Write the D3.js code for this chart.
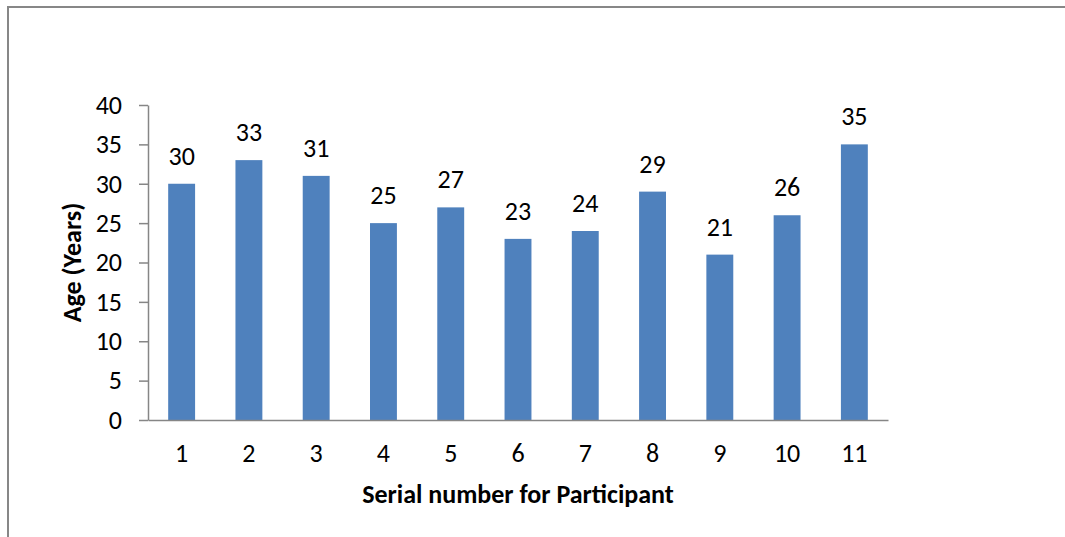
<!DOCTYPE html>
<html>
<head>
<meta charset="utf-8">
<script src="https://cdn.jsdelivr.net/npm/d3@7"></script>
<style>
  html, body { margin: 0; padding: 0; background: #fff; }
  svg { display: block; }
  text { font-family: Carlito, Calibri, "Open Sans", "Liberation Sans", sans-serif; fill: #000; }
</style>
</head>
<body>
<svg id="chart" width="1065" height="537"></svg>
<script>
// Participant serial numbers and their ages
const participants = ["1", "2", "3", "4", "5", "6", "7", "8", "9", "10", "11"];
const ages = [30, 33, 31, 25, 27, 23, 24, 29, 21, 26, 35];
const yTicks = [0, 5, 10, 15, 20, 25, 30, 35, 40];

const svg = d3.select("#chart");

// Outer chart frame (top and left edges)
svg.append("path")
  .attr("d", "M8,537 L8,7 L1065,7")
  .attr("fill", "none")
  .attr("stroke", "#878787")
  .attr("stroke-width", 2);

const plot = { left: 148, right: 888, top: 105, bottom: 420 };

const x = d3.scaleBand()
  .domain(participants)
  .range([plot.left, plot.right])
  .paddingInner(0.6)
  .paddingOuter(0.3);

const y = d3.scaleLinear()
  .domain([0, 40])
  .range([plot.bottom, plot.top]);

// Bars
svg.append("g").selectAll("rect")
  .data(ages)
  .join("rect")
  .attr("x", (d, i) => x(participants[i]))
  .attr("width", x.bandwidth())
  .attr("y", d => y(d))
  .attr("height", d => y(0) - y(d))
  .attr("fill", "#4F81BD");

// Value labels above bars
svg.append("g").selectAll("text")
  .data(ages)
  .join("text")
  .attr("x", (d, i) => x(participants[i]) + x.bandwidth() / 2)
  .attr("y", d => y(d) - 19)
  .attr("text-anchor", "middle")
  .attr("font-size", 26)
  .text(d => d);

// Y axis
const yAxis = svg.append("g")
  .attr("transform", `translate(${plot.left},0)`)
  .call(d3.axisLeft(y).tickValues(yTicks).tickSize(9).tickSizeOuter(0).tickPadding(17));
yAxis.selectAll("line, path").attr("stroke", "#868686").attr("stroke-width", 1.5);
yAxis.selectAll("text").attr("font-size", 26).attr("font-family", null).attr("fill", "#000");

// X axis
const xAxis = svg.append("g")
  .attr("transform", `translate(0,${plot.bottom})`)
  .call(d3.axisBottom(x).tickSize(0).tickSizeOuter(0).tickPadding(24));
xAxis.selectAll("path").attr("stroke", "#868686").attr("stroke-width", 1.5);
xAxis.selectAll("text").attr("font-size", 26).attr("font-family", null).attr("fill", "#000");

// Axis titles
svg.append("text")
  .attr("x", (plot.left + plot.right) / 2)
  .attr("y", 503)
  .attr("text-anchor", "middle")
  .attr("font-size", 26)
  .attr("font-weight", "bold")
  .text("Serial number for Participant");

svg.append("text")
  .attr("transform", `translate(81,${(plot.top + plot.bottom) / 2}) rotate(-90)`)
  .attr("text-anchor", "middle")
  .attr("font-size", 26)
  .attr("font-weight", "bold")
  .text("Age (Years)");
</script>
</body>
</html>
